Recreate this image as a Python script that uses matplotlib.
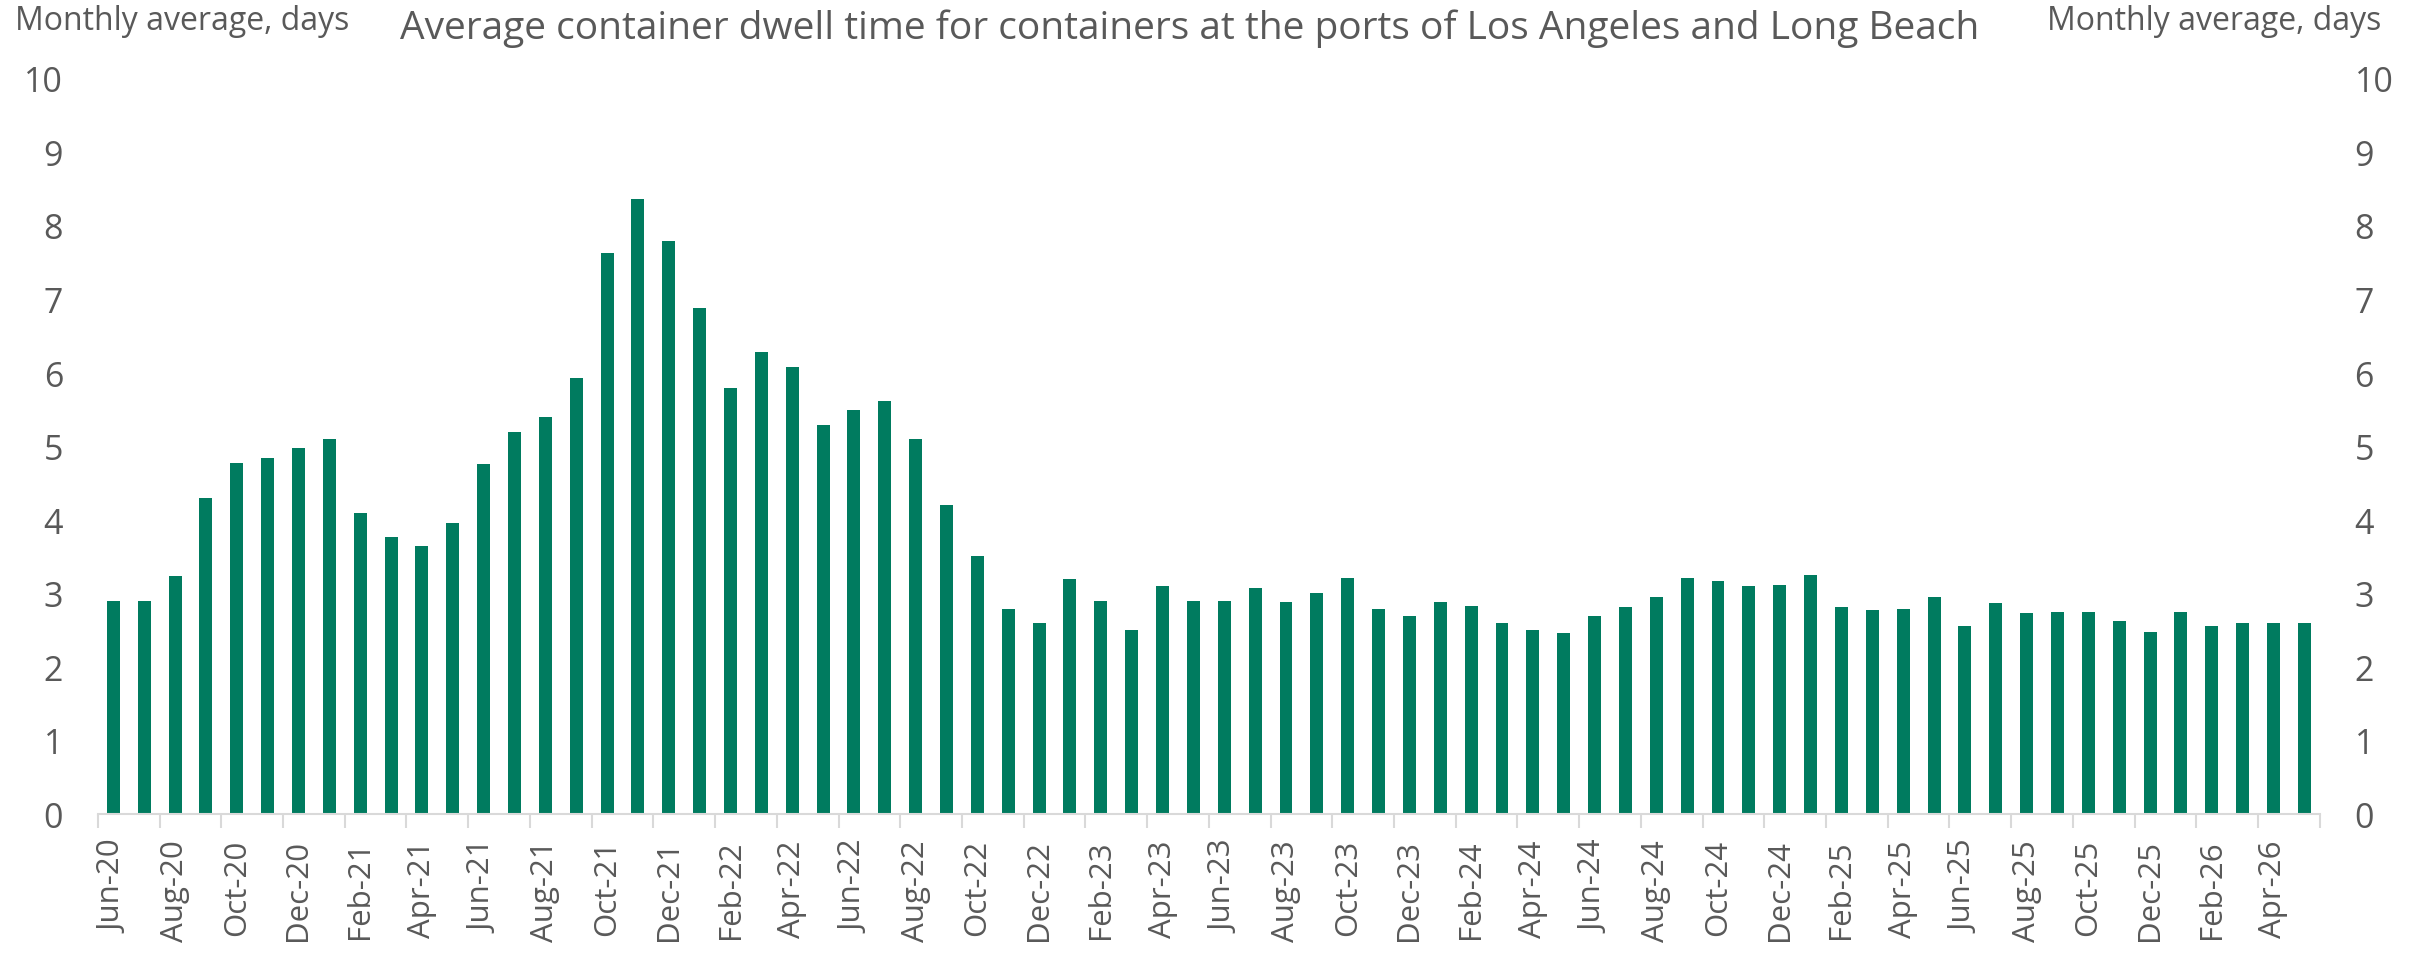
import numpy as np
import matplotlib
matplotlib.use("Agg")
import matplotlib.pyplot as plt

plt.rcParams['font.family'] = ['Open Sans', 'DejaVu Sans']

# monthly dwell time, Jun-20 .. May-26
months = ['Jun-20', 'Jul-20', 'Aug-20', 'Sep-20', 'Oct-20', 'Nov-20', 'Dec-20',
          'Jan-21', 'Feb-21', 'Mar-21', 'Apr-21', 'May-21', 'Jun-21', 'Jul-21',
          'Aug-21', 'Sep-21', 'Oct-21', 'Nov-21', 'Dec-21', 'Jan-22', 'Feb-22',
          'Mar-22', 'Apr-22', 'May-22', 'Jun-22', 'Jul-22', 'Aug-22', 'Sep-22',
          'Oct-22', 'Nov-22', 'Dec-22', 'Jan-23', 'Feb-23', 'Mar-23', 'Apr-23',
          'May-23', 'Jun-23', 'Jul-23', 'Aug-23', 'Sep-23', 'Oct-23', 'Nov-23',
          'Dec-23', 'Jan-24', 'Feb-24', 'Mar-24', 'Apr-24', 'May-24', 'Jun-24',
          'Jul-24', 'Aug-24', 'Sep-24', 'Oct-24', 'Nov-24', 'Dec-24', 'Jan-25',
          'Feb-25', 'Mar-25', 'Apr-25', 'May-25', 'Jun-25', 'Jul-25', 'Aug-25',
          'Sep-25', 'Oct-25', 'Nov-25', 'Dec-25', 'Jan-26', 'Feb-26', 'Mar-26',
          'Apr-26', 'May-26']
dwell = [2.9, 2.9, 3.24, 4.3, 4.77, 4.84, 4.98,
         5.1, 4.09, 3.77, 3.64, 3.96, 4.75, 5.19,
         5.39, 5.93, 7.63, 8.36, 7.79, 6.88, 5.79,
         6.28, 6.08, 5.29, 5.49, 5.61, 5.1, 4.2,
         3.5, 2.79, 2.6, 3.2, 2.9, 2.5, 3.1,
         2.9, 2.9, 3.07, 2.88, 3.0, 3.21, 2.78,
         2.69, 2.88, 2.83, 2.59, 2.5, 2.46, 2.69,
         2.81, 2.95, 3.21, 3.16, 3.1, 3.11, 3.25,
         2.81, 2.77, 2.78, 2.95, 2.55, 2.87, 2.73,
         2.74, 2.74, 2.62, 2.47, 2.74, 2.55, 2.6,
         2.59, 2.6]

green = '#007B5F'
grey = '#595959'
light = '#D9D9D9'

fig = plt.figure(figsize=(24.23, 9.54), dpi=100)
ax = fig.add_axes([0.0404, 0.1457, 0.917, 0.7713])

x = np.arange(len(months))
ax.bar(x, dwell, width=0.42, color=green)

ax.set_xlim(-0.5, len(months) - 0.5)
ax.set_ylim(0, 10)
ax.set_yticks(range(0, 11))

ax.set_xticks(x[::2])
ax.set_xticklabels(months[::2], rotation=90, fontsize=22.5, color=grey)
ax.set_xticks(list(x[::2] - 0.5) + [len(months) - 0.5], minor=True)
ax.tick_params(axis='x', which='major', length=0, pad=18)
ax.tick_params(axis='x', which='minor', length=10, width=1.5, color=light)
ax.tick_params(axis='y', length=0, pad=25, labelsize=24.5, labelcolor=grey)

for s in ['top', 'left', 'right']:
    ax.spines[s].set_visible(False)
ax.spines['bottom'].set_color(light)
ax.spines['bottom'].set_linewidth(1.5)

ax2 = ax.twinx()
ax2.set_ylim(0, 10)
ax2.set_yticks(range(0, 11))
ax2.tick_params(axis='y', length=0, pad=25, labelsize=24.5, labelcolor=grey)
for s in ax2.spines.values():
    s.set_visible(False)

fig.text(0.006, 0.995, 'Monthly average, days', fontsize=23, color=grey,
         ha='left', va='top')
fig.text(0.983, 0.995, 'Monthly average, days', fontsize=23, color=grey,
         ha='right', va='top')
fig.text(0.491, 0.99,
         'Average container dwell time for containers at the ports of Los Angeles and Long Beach',
         fontsize=28, color=grey, ha='center', va='top')

fig.savefig('out.png', dpi=100)
